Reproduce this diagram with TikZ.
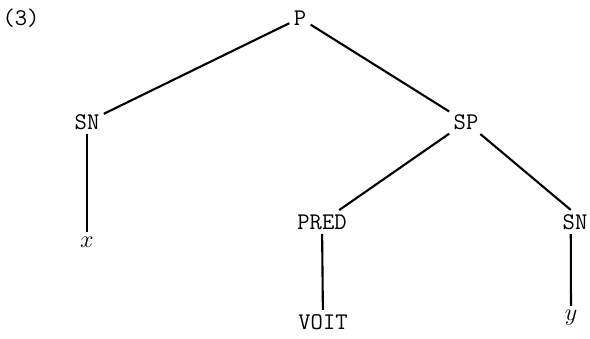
\documentclass[tikz,border=0pt]{standalone}
\usepackage{fontspec}
\usepackage{tikz}
\tikzset{
	cat/.style={font=\fontsize{17}{20}\selectfont\ttfamily, inner sep=3pt},
	leaf/.style={font=\fontsize{19}{22}\selectfont, inner sep=3pt},
	branch/.style={line width=1.5pt, color=black}
}

\begin{document}
\begin{tikzpicture}[x=0.025cm, y=-0.025cm]
		%%%%% START %%%%%
		
		\useasboundingbox (0, 0) rectangle (590, 338);
		
		\node[cat] (num) at (21, 18) {(3)};
		
		\node[cat] (P) at (300, 18) {P};
		\node[cat] (SNa) at (87, 122) {SN};
		\node[cat] (SP) at (466, 122) {SP};
		\node[leaf] (xa) at (87, 242) {$x$};
		\node[cat] (PRED) at (322, 222) {PRED};
		\node[cat] (SNb) at (575, 222) {SN};
		\node[cat] (VOIT) at (323, 322) {VOIT};
		\node[leaf] (yb) at (571, 318) {$y$};
		
		\draw[branch] (P) -- (SNa);
		\draw[branch] (P) -- (SP);
		\draw[branch] (SNa) -- (xa);
		\draw[branch] (SP) -- (PRED);
		\draw[branch] (SP) -- ([xshift=-3pt]SNb.north);
		\draw[branch] (PRED) -- (VOIT);
		\draw[branch] ([xshift=-3pt]SNb.south) -- (yb);
		
		%%%%% END %%%%%
	\end{tikzpicture}
\end{document}
